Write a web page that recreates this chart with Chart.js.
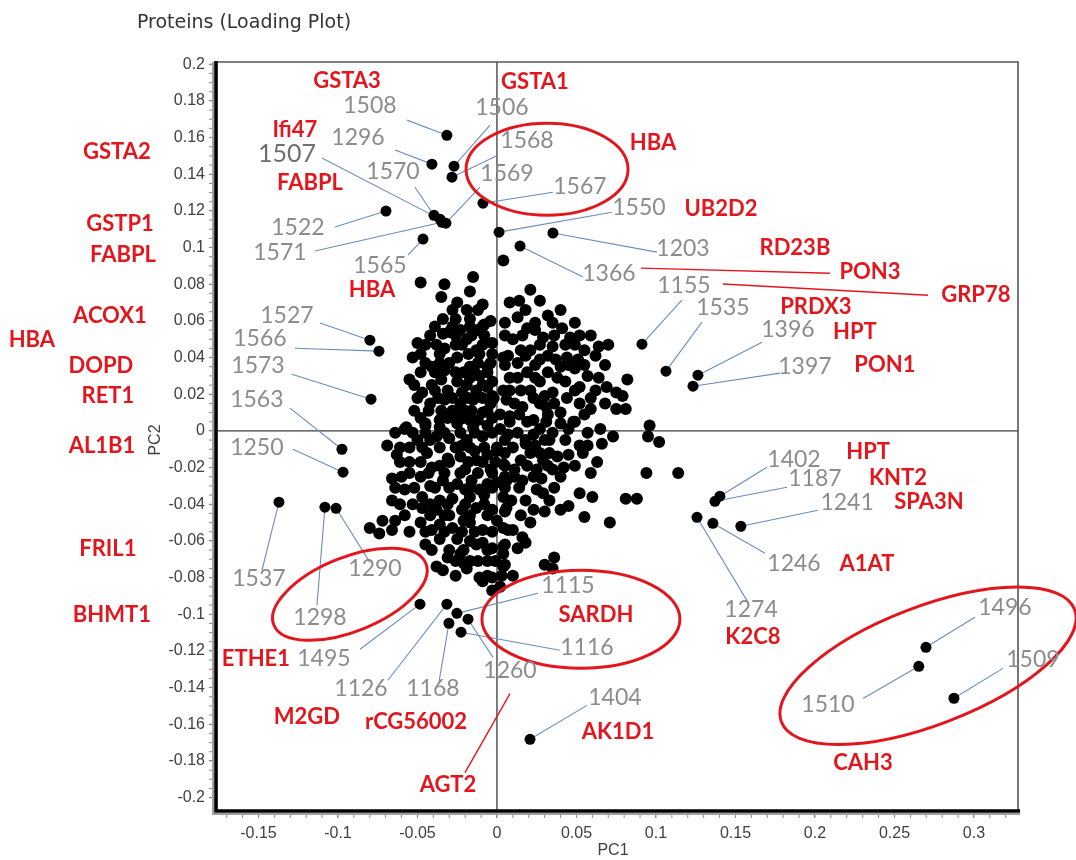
<!DOCTYPE html>
<html>
<head>
<meta charset="utf-8">
<script src="https://cdn.jsdelivr.net/npm/chart.js@4.4.1/dist/chart.umd.min.js"></script>
<style>
  html, body { margin: 0; padding: 0; background: #fff; }
</style>
</head>
<body>
<canvas id="loadingPlot" width="1076" height="860"></canvas>
<script>
//DATA
// unlabelled proteins (PC1 / PC2 loadings), same order in both arrays
const cloudPC1 = [
  -0.048, -0.033, -0.015, -0.017, -0.035, -0.025, -0.009, -0.034, -0.004, -0.008,
  -0.034, -0.023, -0.030, -0.012, -0.050, -0.019, -0.003, -0.033, -0.013, -0.053,
  -0.025, -0.041, -0.017, -0.006, -0.033, -0.055, -0.035, -0.025, -0.017, -0.003,
  -0.047, -0.031, -0.022, -0.013, -0.006, -0.042, -0.033, -0.023, -0.015, -0.004,
  -0.057, -0.045, -0.036, -0.026, -0.017, -0.009, 0.004, 0.004,
  0.021, 0.008, 0.032, 0.013, 0.019, 0.041, 0.046, 0.059, 0.064, 0.010,
  0.029, 0.035, 0.055, 0.021, 0.013, 0.027, 0.044, 0.051, 0.019, 0.032,
  0.040, 0.049, 0.057, 0.008, 0.027, 0.043, 0.052, 0.082, 0.069, 0.075,
  0.079, 0.015, 0.035, 0.006, 0.023, 0.044, 0.059, 0.059, 0.075, 0.081,
  0.016, 0.031, 0.040, 0.008, 0.023, 0.048, 0.096,
  -0.058, -0.045, -0.036, -0.025, -0.015, -0.006, -0.069, -0.061, -0.050, -0.038,
  -0.030, -0.019, -0.009, 0.000, -0.063, -0.055, -0.044, -0.041, -0.031, -0.023,
  -0.013, -0.004, 0.004, -0.066, -0.060, -0.048, -0.034, -0.025, -0.016, -0.006,
  -0.058, -0.047, -0.036, -0.028, -0.017, -0.008, -0.066, -0.047, -0.038, -0.022,
  -0.013, -0.003, -0.072, -0.064, -0.080, -0.074, -0.066, -0.048, -0.036, -0.028,
  -0.017, -0.009, -0.045, -0.036, -0.025, -0.017, -0.009, -0.003, -0.031, -0.023,
  -0.017, -0.006, -0.038, -0.034, -0.019, -0.011, -0.003, 0.002, 0.004, 0.004,
  0.004, -0.021, -0.009, -0.003,
  0.008, 0.019, 0.031, 0.040, 0.049, 0.057, 0.013, 0.023, 0.035, 0.073,
  0.052, 0.057, 0.066, 0.095, 0.102, 0.000, 0.010, 0.018, 0.021, 0.015,
  0.029, 0.038, 0.045, 0.063, 0.025, 0.035, 0.042, 0.059, 0.094, 0.114,
  0.000, 0.016, 0.028, 0.004, 0.025, 0.029, 0.052, 0.060, 0.081, 0.088,
  0.006, 0.023, 0.040, 0.045, 0.055, 0.071, 0.015, 0.021, 0.000, 0.016,
  0.018, 0.013, 0.004, 0.005, 0.010, 0.003, 0.030, 0.036, 0.035,
  -0.039, -0.028, -0.020, -0.012, -0.042, -0.022, -0.014, -0.036, -0.020, -0.011,
  -0.042, -0.021, -0.030, -0.013, -0.041, -0.020, -0.006, -0.030, -0.021, -0.011,
  -0.003, -0.026, 0.015, 0.024, 0.037, 0.008, 0.030, 0.024, 0.007, 0.011,
  0.006, 0.033
];
const cloudPC2 = [
  0.081, 0.080, 0.084, 0.076, 0.073, 0.070, 0.069, 0.061, 0.060, 0.058,
  0.053, 0.055, 0.054, 0.055, 0.048, 0.050, 0.048, 0.045, 0.044, 0.040,
  0.040, 0.035, 0.035, 0.035, 0.033, 0.028, 0.028, 0.027, 0.029, 0.027,
  0.021, 0.022, 0.021, 0.022, 0.024, 0.015, 0.017, 0.015, 0.017, 0.015,
  0.002, 0.004, 0.006, 0.008, 0.006, 0.010, 0.093, 0.040,
  0.077, 0.070, 0.063, 0.062, 0.056, 0.056, 0.051, 0.052, 0.046, 0.050,
  0.051, 0.046, 0.044, 0.044, 0.037, 0.039, 0.040, 0.039, 0.032, 0.032,
  0.035, 0.034, 0.030, 0.029, 0.027, 0.027, 0.024, 0.028, 0.024, 0.021,
  0.019, 0.022, 0.021, 0.017, 0.018, 0.018, 0.018, 0.012, 0.012, 0.012,
  0.013, 0.013, 0.010, 0.008, 0.006, 0.005, 0.003,
  0.001, 0.003, 0.002, 0.004, 0.002, 0.003, -0.008, -0.009, -0.005, -0.003,
  -0.004, -0.005, -0.003, -0.011, -0.013, -0.017, -0.012, -0.020, -0.015, -0.014,
  -0.016, -0.021, -0.018, -0.026, -0.025, -0.025, -0.027, -0.029, -0.027, -0.029,
  -0.032, -0.036, -0.038, -0.037, -0.036, -0.035, -0.038, -0.042, -0.043, -0.043,
  -0.042, -0.043, -0.049, -0.049, -0.053, -0.056, -0.054, -0.050, -0.051, -0.053,
  -0.050, -0.054, -0.062, -0.059, -0.059, -0.060, -0.061, -0.064, -0.069, -0.067,
  -0.071, -0.071, -0.074, -0.076, -0.075, -0.080, -0.080, -0.085, -0.074, -0.063,
  -0.053, -0.072, -0.082, -0.087,
  0.005, 0.005, 0.005, 0.004, 0.005, -0.001, -0.001, -0.002, -0.001, -0.003,
  -0.008, -0.008, -0.007, -0.003, -0.006, -0.009, -0.009, -0.007, -0.012, -0.016,
  -0.016, -0.014, -0.013, -0.017, -0.021, -0.021, -0.020, -0.023, -0.023, -0.023,
  -0.028, -0.027, -0.026, -0.036, -0.032, -0.034, -0.034, -0.036, -0.037, -0.037,
  -0.042, -0.043, -0.043, -0.041, -0.047, -0.050, -0.046, -0.050, -0.049, -0.058,
  -0.061, -0.064, -0.067, -0.073, -0.079, -0.079, -0.073, -0.069, -0.075,
  0.022, 0.011, 0.011, 0.006, -0.005, -0.008, -0.011, -0.019, -0.021, -0.032,
  -0.030, -0.049, -0.046, -0.062, -0.054, -0.032, -0.013, 0.037, 0.032, 0.030,
  0.019, 0.047, 0.044, 0.055, 0.039, 0.022, 0.019, -0.008, -0.002, -0.021,
  -0.027, -0.005
];

// packed core of the left lobe (PC1 < 0)
const coreLeftPC1 = [
  -0.028, -0.019, -0.012,
  -0.026, -0.017,
  -0.039, -0.028, -0.017, -0.009,
  -0.042, -0.026, -0.016, -0.008,
  -0.045, -0.038, -0.022, -0.009,
  -0.048, -0.036, -0.018, -0.011, -0.003,
  -0.045, -0.036, -0.012, -0.004,
  -0.048, -0.039, -0.026, -0.014, -0.006,
  -0.052, -0.041, -0.019, -0.009,
  -0.050, -0.037, -0.028, -0.018, -0.009, -0.002,
  -0.052, -0.043, -0.035, -0.025, -0.016, -0.006,
  -0.048, -0.031, -0.021, -0.003,
  -0.064, -0.053, -0.045, -0.033, -0.023, -0.014, -0.003,
  -0.055, -0.047, -0.036, -0.026, -0.017, -0.008,
  -0.061, -0.048, -0.030, -0.018, -0.009, -0.001,
  -0.055, -0.043, -0.033, -0.023, -0.012, -0.003,
  -0.064, -0.052, -0.039, -0.030, -0.017, -0.003,
  -0.061, -0.053, -0.042, -0.031, -0.020, -0.008,
  -0.058, -0.042, -0.033, -0.017, -0.006,
  -0.055, -0.045, -0.033, -0.022, -0.014, -0.003,
  -0.041, -0.030, -0.021, -0.006,
  -0.026, -0.012, -0.001,
  -0.026, -0.006
];
const coreLeftPC2 = [
  0.066, 0.066, 0.066,
  0.061, 0.061,
  0.057, 0.057, 0.057, 0.057,
  0.052, 0.052, 0.052, 0.052,
  0.047, 0.047, 0.047, 0.047,
  0.042, 0.042, 0.042, 0.042, 0.042,
  0.037, 0.037, 0.037, 0.037,
  0.032, 0.032, 0.032, 0.032, 0.032,
  0.025, 0.025, 0.025, 0.025,
  0.018, 0.018, 0.018, 0.018, 0.018, 0.018,
  0.011, 0.011, 0.011, 0.011, 0.011, 0.011,
  0.007, 0.007, 0.007, 0.007,
  -0.001, -0.001, -0.001, -0.001, -0.001, -0.001, -0.001,
  -0.009, -0.009, -0.009, -0.009, -0.009, -0.009,
  -0.017, -0.017, -0.017, -0.017, -0.017, -0.017,
  -0.023, -0.023, -0.023, -0.023, -0.023, -0.023,
  -0.031, -0.031, -0.031, -0.031, -0.031, -0.031,
  -0.040, -0.040, -0.040, -0.040, -0.040, -0.040,
  -0.046, -0.046, -0.046, -0.046, -0.046,
  -0.055, -0.055, -0.055, -0.055, -0.055, -0.055,
  -0.065, -0.065, -0.065, -0.065,
  -0.071, -0.071, -0.071,
  -0.079, -0.079
];

// packed core of the right lobe (PC1 > 0)
const coreRightPC1 = [
  0.014, 0.027,
  0.018, 0.040,
  0.005, 0.024, 0.035, 0.049,
  0.005, 0.016, 0.036, 0.052,
  0.027, 0.043, 0.049, 0.070,
  0.007, 0.018, 0.032, 0.062,
  0.005, 0.024, 0.045, 0.055, 0.068,
  0.013, 0.024, 0.038, 0.064,
  0.004, 0.021, 0.049, 0.062,
  0.011, 0.027, 0.036, 0.052, 0.068,
  0.002, 0.014, 0.032, 0.055,
  0.002, 0.027, 0.045, 0.065,
  0.005, 0.018, 0.030, 0.043,
  0.005, 0.027, 0.033, 0.054,
  0.005, 0.019, 0.032, 0.049,
  0.005, 0.011, 0.023, 0.040,
  0.005, 0.014, 0.036,
  0.009, 0.018, 0.033,
  0.005, 0.030,
  0.007, 0.010,
  0.005
];
const coreRightPC2 = [
  0.071, 0.071,
  0.066, 0.066,
  0.059, 0.059, 0.059, 0.059,
  0.052, 0.052, 0.052, 0.052,
  0.047, 0.047, 0.047, 0.047,
  0.041, 0.041, 0.041, 0.041,
  0.036, 0.036, 0.036, 0.036, 0.036,
  0.029, 0.029, 0.029, 0.029,
  0.022, 0.022, 0.022, 0.022,
  0.015, 0.015, 0.015, 0.015, 0.015,
  0.009, 0.009, 0.009, 0.009,
  0.001, 0.001, 0.001, 0.001,
  -0.005, -0.005, -0.005, -0.005,
  -0.012, -0.012, -0.012, -0.012,
  -0.019, -0.019, -0.019, -0.019,
  -0.025, -0.025, -0.025, -0.025,
  -0.031, -0.031, -0.031,
  -0.038, -0.038, -0.038,
  -0.044, -0.044,
  -0.054, -0.054,
  -0.062
];

// labelled protein spots
const proteinIds = [
  '1508', '1296', '1506', '1568', '1567', '1570', '1507', '1571', '1569', '1522',
  '1565', '1550', '1203', '1366', '1155', '1535', '1396', '1397', '1527', '1566',
  '1573', '1563', '1250', '1537', '1298', '1290', '1495', '1126', '1168', '1115',
  '1260', '1116', '1404', '1402', '1187', '1274', '1246', '1241', '1496', '1510',
  '1509'
];
const proteinPC1 = [
  -0.0315, -0.0409, -0.0270, -0.0283, -0.0088, -0.0396, -0.0358, -0.0346, -0.0321, -0.0698,
  -0.0465, 0.0013, 0.0352, 0.0145, 0.0912, 0.1063, 0.1264, 0.1233, -0.0799, -0.0742,
  -0.0792, -0.0975, -0.0968, -0.1371, -0.1082, -0.1012, -0.0484, -0.0315, -0.0302, -0.0252,
  -0.0182, -0.0226, 0.0208, 0.1402, 0.1371, 0.1258, 0.1358, 0.1534, 0.2698, 0.2653,
  0.2874
];
const proteinPC2 = [
  0.1612, 0.1455, 0.1444, 0.1384, 0.1242, 0.1176, 0.1155, 0.1138, 0.1133, 0.1199,
  0.1046, 0.1084, 0.1079, 0.1008, 0.0473, 0.0326, 0.0304, 0.0244, 0.0495, 0.0435,
  0.0173, -0.0100, -0.0225, -0.0389, -0.0416, -0.0422, -0.0945, -0.0945, -0.1049, -0.0995,
  -0.1027, -0.1098, -0.1682, -0.0356, -0.0384, -0.0471, -0.0504, -0.0520, -0.1180, -0.1284,
  -0.1458
];

// axis ticks
const xTickValues = [-0.15, -0.1, -0.05, 0, 0.05, 0.1, 0.15, 0.2, 0.25, 0.3];
const xTickLabels = ['-0.15', '-0.1', '-0.05', '0', '0.05', '0.1', '0.15', '0.2', '0.25', '0.3'];
const yTickValues = [0.2, 0.18, 0.16, 0.14, 0.12, 0.1, 0.08, 0.06, 0.04, 0.02, 0,
  -0.02, -0.04, -0.06, -0.08, -0.1, -0.12, -0.14, -0.16, -0.18, -0.2];
const yTickLabels = ['0.2', '0.18', '0.16', '0.14', '0.12', '0.1', '0.08', '0.06', '0.04', '0.02', '0',
  '-0.02', '-0.04', '-0.06', '-0.08', '-0.1', '-0.12', '-0.14', '-0.16', '-0.18', '-0.2'];

//ANNOTATIONS (label centre and leader line start, in PC1/PC2 units)
const spotLabels = [
  { id: '1508', at: [-0.0799, 0.1777], from: [-0.0566, 0.1695] },
  { id: '1506', at: [0.0031, 0.1761], from: [-0.0044, 0.1668] },
  { id: '1296', at: [-0.0874, 0.1602], from: [-0.0641, 0.1532] },
  { id: '1568', at: [0.0189, 0.1586], from: [0.0006, 0.1504] },
  { id: '1507', at: [-0.1321, 0.1510], from: [-0.1101, 0.1488], big: true },
  { id: '1570', at: [-0.0654, 0.1412], from: [-0.0516, 0.1329] },
  { id: '1569', at: [0.0063, 0.1401], from: [-0.0107, 0.1329] },
  { id: '1567', at: [0.0522, 0.1330], from: [0.0352, 0.1302] },
  { id: '1522', at: [-0.1252, 0.1111], from: [-0.1019, 0.1112] },
  { id: '1550', at: [0.0893, 0.1220], from: [0.0723, 0.1193] },
  { id: '1571', at: [-0.1365, 0.0975], from: [-0.1145, 0.0981] },
  { id: '1203', at: [0.1170, 0.0997], from: [0.1006, 0.0975] },
  { id: '1565', at: [-0.0736, 0.0904], from: [-0.0560, 0.0959] },
  { id: '1366', at: [0.0704, 0.0860], from: [0.0541, 0.0839] },
  { id: '1155', at: [0.1176, 0.0795], from: [0.1163, 0.0713] },
  { id: '1535', at: [0.1421, 0.0670], from: [0.1289, 0.0593] },
  { id: '1527', at: [-0.1321, 0.0631], from: [-0.1113, 0.0588] },
  { id: '1396', at: [0.1830, 0.0555], from: [0.1667, 0.0484] },
  { id: '1566', at: [-0.1491, 0.0506], from: [-0.1270, 0.0451] },
  { id: '1573', at: [-0.1503, 0.0358], from: [-0.1289, 0.0309] },
  { id: '1397', at: [0.1937, 0.0353], from: [0.1780, 0.0315] },
  { id: '1563', at: [-0.1510, 0.0173], from: [-0.1302, 0.0124] },
  { id: '1250', at: [-0.1510, -0.0089], from: [-0.1283, -0.0100] },
  { id: '1402', at: [0.1868, -0.0154], from: [0.1698, -0.0198] },
  { id: '1187', at: [0.2000, -0.0258], from: [0.1824, -0.0307] },
  { id: '1241', at: [0.2202, -0.0389], from: [0.2019, -0.0433] },
  { id: '1246', at: [0.1868, -0.0722], from: [0.1686, -0.0667] },
  { id: '1290', at: [-0.0767, -0.0749], from: [-0.0799, -0.0717] },
  { id: '1537', at: [-0.1497, -0.0804], from: [-0.1478, -0.0760] },
  { id: '1115', at: [0.0447, -0.0842], from: [0.0258, -0.0885] },
  { id: '1274', at: [0.1598, -0.0973], from: [0.1579, -0.0935] },
  { id: '1298', at: [-0.1113, -0.1017], from: [-0.1132, -0.0951] },
  { id: '1496', at: [0.3195, -0.0962], from: [0.3006, -0.1016] },
  { id: '1116', at: [0.0566, -0.1180], from: [0.0396, -0.1196] },
  { id: '1509', at: [0.3371, -0.1246], from: [0.3182, -0.1295] },
  { id: '1495', at: [-0.1088, -0.1240], from: [-0.0861, -0.1191] },
  { id: '1260', at: [0.0082, -0.1306], from: [-0.0025, -0.1235] },
  { id: '1126', at: [-0.0855, -0.1404], from: [-0.0686, -0.1360] },
  { id: '1168', at: [-0.0403, -0.1404], from: [-0.0365, -0.1371] },
  { id: '1404', at: [0.0742, -0.1453], from: [0.0566, -0.1497] },
  { id: '1510', at: [0.2082, -0.1491], from: [0.2302, -0.1459] }
];

const proteinNames = [
  { text: 'GSTA3', at: [-0.0943, 0.1908] },
  { text: 'GSTA1', at: [0.0239, 0.1902] },
  { text: 'Ifi47', at: [-0.1271, 0.1641] },
  { text: 'GSTA2', at: [-0.2390, 0.1520] },
  { text: 'FABPL', at: [-0.1176, 0.1351] },
  { text: 'HBA', at: [0.0981, 0.1569] },
  { text: 'GSTP1', at: [-0.2371, 0.1128] },
  { text: 'FABPL', at: [-0.2352, 0.0958] },
  { text: 'UB2D2', at: [0.1409, 0.1210] },
  { text: 'RD23B', at: [0.1874, 0.0997] },
  { text: 'HBA', at: [-0.0786, 0.0768] },
  { text: 'PON3', at: [0.2346, 0.0866] },
  { text: 'GRP78', at: [0.3012, 0.0740] },
  { text: 'PRDX3', at: [0.2006, 0.0675] },
  { text: 'ACOX1', at: [-0.2434, 0.0626] },
  { text: 'HPT', at: [0.2251, 0.0539] },
  { text: 'HBA', at: [-0.2925, 0.0495] },
  { text: 'DOPD', at: [-0.2491, 0.0353] },
  { text: 'PON1', at: [0.2440, 0.0358] },
  { text: 'RET1', at: [-0.2447, 0.0189] },
  { text: 'AL1B1', at: [-0.2484, -0.0084] },
  { text: 'HPT', at: [0.2334, -0.0116] },
  { text: 'KNT2', at: [0.2522, -0.0258] },
  { text: 'SPA3N', at: [0.2717, -0.0389] },
  { text: 'FRIL1', at: [-0.2447, -0.0646] },
  { text: 'A1AT', at: [0.2327, -0.0728] },
  { text: 'SARDH', at: [0.0623, -0.1006] },
  { text: 'BHMT1', at: [-0.2422, -0.1001] },
  { text: 'K2C8', at: [0.1610, -0.1121] },
  { text: 'ETHE1', at: [-0.1516, -0.1246] },
  { text: 'M2GD', at: [-0.1195, -0.1558] },
  { text: 'rCG56002', at: [-0.0509, -0.1585] },
  { text: 'AK1D1', at: [0.0761, -0.1640] },
  { text: 'CAH3', at: [0.2302, -0.1809] },
  { text: 'AGT2', at: [-0.0308, -0.1933] }
];

const redLeaders = [
  { from: [0.0906, 0.0888], to: [0.2094, 0.0860] },
  { from: [0.1421, 0.0801], to: [0.2711, 0.0740] },
  { from: [0.0082, -0.1433], to: [-0.0201, -0.1864] }
];

// centre in PC units, radii in px, rotation in degrees
const circles = [
  { at: [0.0315, 0.1427], rx: 81, ry: 46, rot: 0 },
  { at: [-0.0925, -0.0891], rx: 82, ry: 37, rot: -22 },
  { at: [0.0528, -0.1027], rx: 99, ry: 49, rot: 0 },
  { at: [0.2711, -0.1281], rx: 157, ry: 59, rot: -21 }
];

const RED = '#e3161e';
const GREY_NUM = '#8c8c8c';
const LEADER = 'rgb(108,140,190)';

const annotate = {
  id: 'annotate',
  beforeDatasetsDraw(chart) {
    const { ctx, chartArea: a } = chart;
    const sx = chart.scales.x, sy = chart.scales.y;
    const px = v => sx.getPixelForValue(v), py = v => sy.getPixelForValue(v);
    ctx.save();
    // zero lines
    ctx.strokeStyle = '#3c3c3c';
    ctx.lineWidth = 1.3;
    ctx.beginPath();
    ctx.moveTo(px(0), a.top); ctx.lineTo(px(0), a.bottom);
    ctx.moveTo(a.left, py(0)); ctx.lineTo(a.right, py(0));
    ctx.stroke();
    // leader lines
    ctx.strokeStyle = LEADER;
    ctx.lineWidth = 1.1;
    spotLabels.forEach(l => {
      const i = proteinIds.indexOf(l.id);
      ctx.beginPath();
      ctx.moveTo(px(l.from[0]), py(l.from[1]));
      ctx.lineTo(px(proteinPC1[i]), py(proteinPC2[i]));
      ctx.stroke();
    });
    ctx.strokeStyle = RED;
    ctx.lineWidth = 1.4;
    redLeaders.forEach(l => {
      ctx.beginPath();
      ctx.moveTo(px(l.from[0]), py(l.from[1]));
      ctx.lineTo(px(l.to[0]), py(l.to[1]));
      ctx.stroke();
    });
    ctx.restore();
  },
  afterDraw(chart) {
    const { ctx, chartArea: a } = chart;
    const sx = chart.scales.x, sy = chart.scales.y;
    const px = v => sx.getPixelForValue(v), py = v => sy.getPixelForValue(v);
    ctx.save();

    // top / right frame
    ctx.strokeStyle = '#555';
    ctx.lineWidth = 1.6;
    ctx.beginPath();
    ctx.moveTo(a.left, a.top); ctx.lineTo(a.right, a.top); ctx.lineTo(a.right, a.bottom);
    ctx.stroke();
    // heavy left / bottom axes with a soft shadow
    ctx.strokeStyle = '#a0a0a0';
    ctx.lineWidth = 2;
    ctx.beginPath();
    ctx.moveTo(a.left - 3, a.top); ctx.lineTo(a.left - 3, a.bottom + 3);
    ctx.lineTo(a.right + 2, a.bottom + 3);
    ctx.stroke();
    ctx.strokeStyle = '#000';
    ctx.lineWidth = 3.6;
    ctx.beginPath();
    ctx.moveTo(a.left, a.top - 1); ctx.lineTo(a.left, a.bottom);
    ctx.lineTo(a.right + 2, a.bottom);
    ctx.stroke();

    // minor ticks
    ctx.strokeStyle = '#8a8a8a';
    ctx.lineWidth = 1;
    ctx.beginPath();
    for (let k = -40; k <= 40; k++) {
      const y = py(k * 0.005);
      if (y < a.top || y > a.bottom) continue;
      ctx.moveTo(a.left - 4, y); ctx.lineTo(a.left - 7, y);
    }
    for (let k = -17; k <= 32; k++) {
      const x = px(k * 0.01);
      if (x < a.left || x > a.right) continue;
      ctx.moveTo(x, a.bottom + 4); ctx.lineTo(x, a.bottom + 7);
    }
    ctx.stroke();

    // ellipses
    ctx.strokeStyle = RED;
    ctx.lineWidth = 3;
    circles.forEach(c => {
      ctx.beginPath();
      ctx.ellipse(px(c.at[0]), py(c.at[1]), c.rx, c.ry, c.rot * Math.PI / 180, 0, Math.PI * 2);
      ctx.stroke();
    });

    ctx.textAlign = 'center';
    ctx.textBaseline = 'middle';

    // spot numbers
    spotLabels.forEach(l => {
      ctx.fillStyle = l.big ? '#6e6e6e' : GREY_NUM;
      ctx.font = l.big ? '25px Lato' : '23px Lato';
      ctx.fillText(l.id, px(l.at[0]), py(l.at[1]));
    });

    // protein names
    ctx.fillStyle = RED;
    ctx.font = 'bold 22px Lato';
    proteinNames.forEach(n => ctx.fillText(n.text, px(n.at[0]), py(n.at[1])));

    // titles
    ctx.fillStyle = '#333';
    ctx.font = '19px "DejaVu Sans"';
    ctx.fillText('Proteins (Loading Plot)', 244, 23);
    ctx.font = '16px "Liberation Sans"';
    ctx.fillStyle = '#404040';
    ctx.fillText('PC1', 613, 851);
    ctx.translate(156, 440);
    ctx.rotate(-Math.PI / 2);
    ctx.fillText('PC2', 0, 0);
    ctx.restore();
  }
};

const tickFont = { family: 'Liberation Sans', size: 16 };
const pairs = (xs, ys) => xs.map((x, i) => ({ x: x, y: ys[i] }));
const cloudDot = { backgroundColor: '#000', borderWidth: 0, pointRadius: 6 };
const spotDot = { backgroundColor: '#000', borderWidth: 0, pointRadius: 5.5 };

new Chart(document.getElementById('loadingPlot'), {
  type: 'scatter',
  data: {
    datasets: [
      Object.assign({ label: 'proteins', data: pairs(cloudPC1, cloudPC2) }, cloudDot),
      Object.assign({ label: 'core left', data: pairs(coreLeftPC1, coreLeftPC2) }, cloudDot),
      Object.assign({ label: 'core right', data: pairs(coreRightPC1, coreRightPC2) }, cloudDot),
      Object.assign({ label: 'labelled', data: pairs(proteinPC1, proteinPC2) }, spotDot)
    ]
  },
  options: {
    responsive: false,
    animation: false,
    devicePixelRatio: 1,
    layout: { padding: { top: 62, right: 58, left: 0, bottom: 0 } },
    plugins: { legend: { display: false }, tooltip: { enabled: false } },
    scales: {
      x: {
        type: 'linear',
        min: -0.1767,
        max: 0.3277,
        afterBuildTicks: s => { s.ticks = xTickValues.map(v => ({ value: v })); },
        afterFit: s => { s.height = 49; },
        ticks: {
          autoSkip: false, maxRotation: 0, padding: 6,
          color: '#404040', font: tickFont,
          callback: (v, i) => xTickLabels[i]
        },
        grid: { drawOnChartArea: false, tickLength: 7, color: '#8a8a8a' },
        border: { display: false }
      },
      y: {
        type: 'linear',
        min: -0.2073,
        max: 0.2012,
        afterBuildTicks: s => { s.ticks = yTickValues.map(v => ({ value: v })); },
        afterFit: s => { s.width = 216; },
        ticks: {
          autoSkip: false, padding: 4,
          color: '#404040', font: tickFont,
          callback: (v, i) => yTickLabels[i]
        },
        grid: { drawOnChartArea: false, tickLength: 7, color: '#8a8a8a' },
        border: { display: false }
      }
    }
  },
  plugins: [annotate]
});
</script>
</body>
</html>
